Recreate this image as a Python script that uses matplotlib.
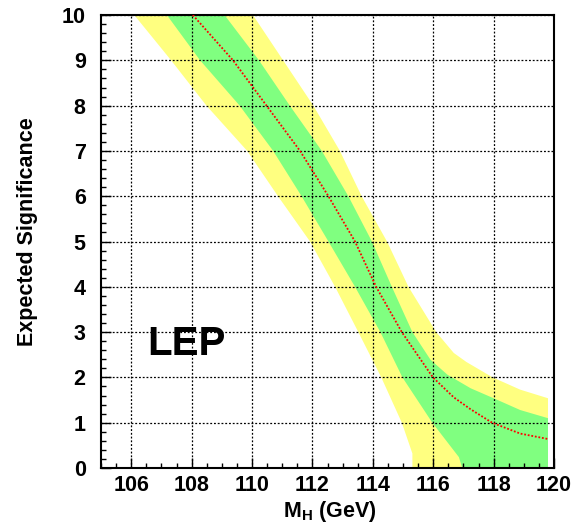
import matplotlib
matplotlib.use('Agg')
import matplotlib.pyplot as plt
from matplotlib.ticker import MultipleLocator

plt.rcParams['font.family'] = ['Liberation Sans', 'DejaVu Sans']
plt.rcParams['font.weight'] = 'bold'
plt.rcParams['mathtext.fontset'] = 'custom'
plt.rcParams['mathtext.bf'] = 'Liberation Sans:bold'
plt.rcParams['mathtext.rm'] = 'Liberation Sans:bold'

# median expected significance vs Higgs mass
median_mass = [108.04, 109.37, 110.48, 111.59, 112.53, 113.41, 114.11, 114.96,
               115.99, 116.68, 117.23, 117.95, 118.88, 119.8]
median_sig = [10, 9, 8, 7, 6, 5, 4, 3, 2, 1.56, 1.30, 1.0, 0.76, 0.64]

# 1 sigma band (green), lower and upper edges
green_lo_mass = [107.18, 108.28, 109.59, 110.70, 111.64, 112.53, 113.41, 114.25,
                 114.98, 115.97, 116.85, 116.96, 119.8]
green_lo_sig = [10, 9, 8, 7, 6, 5, 4, 3, 2, 1, 0.24, 0, 0]
green_hi_mass = [109.09, 110.23, 111.25, 112.31, 113.19, 113.97, 114.63, 115.31,
                 115.91, 116.47, 117.24, 118.0, 118.88, 119.8]
green_hi_sig = [10, 9, 8, 7, 6, 5, 4, 3, 2.39, 2.06, 1.76, 1.54, 1.28, 1.10]

# 2 sigma band (yellow)
yellow_lo_mass = [106.1, 107.32, 108.49, 109.84, 110.86, 111.92, 112.75, 113.52,
                  114.28, 114.96, 115.31, 115.31, 119.8]
yellow_lo_sig = [10, 9, 8, 7, 6, 5, 4, 3, 2, 1, 0.32, 0, 0]
yellow_hi_mass = [110.03, 111.03, 112.03, 112.91, 113.63, 114.47, 115.18, 116.1,
                  116.68, 117.1, 117.97, 118.88, 119.8]
yellow_hi_sig = [10, 9, 8, 7, 6, 5, 4, 3, 2.54, 2.34, 2.0, 1.73, 1.54]

x_ticks = [106, 108, 110, 112, 114, 116, 118, 120]
y_ticks = [0, 1, 2, 3, 4, 5, 6, 7, 8, 9, 10]

fig = plt.figure(figsize=(5.73, 5.29), dpi=100)
ax = fig.add_axes([0.1763, 0.1153, 0.7906, 0.8563])

ax.fill(yellow_lo_mass + yellow_hi_mass[::-1], yellow_lo_sig + yellow_hi_sig[::-1],
        color='#ffff80', lw=0, zorder=1)
ax.fill(green_lo_mass + green_hi_mass[::-1], green_lo_sig + green_hi_sig[::-1],
        color='#80ff80', lw=0, zorder=1.1)
ax.plot(median_mass, median_sig, color='red', lw=1.3, linestyle=(0, (1, 1)), zorder=3)

ax.set_xlim(105, 120)
ax.set_ylim(0, 10)
ax.set_xticks(x_ticks, labels=[str(t) for t in x_ticks],
              fontsize=15.5, fontweight='bold', family='Liberation Sans')
ax.set_yticks(y_ticks, labels=[str(t) for t in y_ticks],
              fontsize=15.5, fontweight='bold', family='Liberation Sans')
ax.xaxis.set_minor_locator(MultipleLocator(0.5))
ax.yaxis.set_minor_locator(MultipleLocator(0.2))

ax.set_axisbelow(False)
ax.grid(True, which='major', color='black', linestyle=(0, (1.5, 1.5)), lw=0.9)

ax.tick_params(which='both', direction='in', top=False, right=False, width=1)
ax.tick_params(which='major', length=7)
ax.tick_params(axis='x', which='major', pad=5)
ax.tick_params(axis='y', which='major', pad=11)
ax.tick_params(which='minor', length=3.5)
for sp in ax.spines.values():
    sp.set_linewidth(1.5)

ax.set_xlabel(r'$\mathbf{M_H}$ (GeV)', fontsize=15.5, fontweight='bold')
ax.xaxis.set_label_coords(0.505, -0.068)
ax.set_ylabel('Expected Significance', fontsize=15.5, fontweight='bold')
ax.yaxis.set_label_coords(-0.139, 0.522)

ax.text(106.54, 2.5, 'LEP', fontsize=29, fontweight='bold')

fig.savefig('out.png', dpi=100)
